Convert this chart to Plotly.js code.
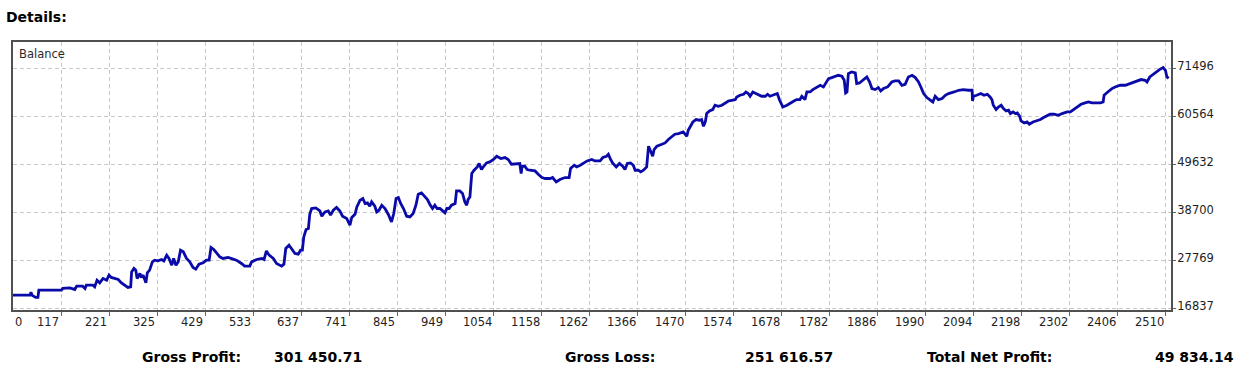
<!DOCTYPE html>
<html>
<head>
<meta charset="utf-8">
<script src="https://cdn.plot.ly/plotly-3.0.1.min.js"></script>
<style>
  html, body { margin: 0; padding: 0; background: #fff; }
  #chart { width: 1248px; height: 373px; }
</style>
</head>
<body>
<div id="chart"></div>
<script>
// ---- data ----
const trades = [0,49,51,53,61,66,68,117,120,135,146,150,163,168,171,185,189,194,200,207,215,220,225,233,240,247,254,261,267,269,274,278,281,287,290,294,300,303,308,314,319,326,334,339,345,350,356,360,365,370,375,381,388,395,402,408,415,424,431,437,441,447,453,460,467,478,489,496,507,514,525,529,540,551,556,561,567,576,583,594,599,603,610,619,623,630,635,639,642,647,652,655,659,668,677,681,688,695,700,706,713,720,726,735,742,746,753,757,764,770,775,780,785,789,796,800,805,811,818,825,832,837,842,847,852,858,865,872,879,885,890,897,905,910,915,921,926,931,937,944,948,952,957,962,970,973,980,986,991,995,998,1002,1006,1011,1018,1022,1027,1032,1038,1045,1053,1060,1069,1078,1085,1092,1103,1110,1113,1115,1121,1126,1132,1143,1150,1158,1165,1176,1181,1189,1197,1208,1217,1220,1228,1233,1241,1248,1256,1266,1273,1284,1290,1298,1302,1306,1311,1319,1326,1333,1338,1343,1350,1356,1360,1367,1372,1378,1385,1389,1394,1398,1401,1407,1418,1425,1432,1439,1446,1454,1464,1472,1475,1479,1485,1492,1499,1504,1508,1512,1515,1521,1528,1533,1540,1548,1555,1562,1569,1577,1580,1587,1595,1600,1605,1609,1615,1620,1627,1634,1642,1647,1652,1660,1668,1673,1680,1689,1696,1704,1710,1717,1721,1728,1732,1739,1745,1752,1761,1768,1774,1779,1786,1793,1800,1808,1813,1816,1819,1822,1829,1837,1840,1846,1851,1856,1862,1868,1873,1880,1887,1892,1898,1907,1916,1923,1931,1938,1945,1952,1960,1967,1974,1979,1985,1992,1999,2005,2010,2017,2025,2032,2039,2046,2051,2061,2071,2082,2090,2091,2093,2100,2109,2116,2123,2129,2133,2136,2142,2147,2153,2158,2164,2169,2173,2179,2184,2188,2193,2196,2203,2209,2214,2222,2231,2238,2245,2252,2259,2268,2277,2285,2296,2303,2310,2317,2326,2335,2342,2350,2359,2368,2374,2376,2384,2393,2400,2411,2422,2431,2440,2449,2456,2465,2469,2475,2482,2489,2496,2504,2509,2512,2516];
const balance = [20000,20000,20650,20000,19450,19450,21110,21110,21500,21630,21270,22020,22020,21500,22250,22250,21860,23380,22770,23770,23380,24520,24000,23770,23540,22770,22250,21720,21860,25270,26040,25660,23770,24910,24000,24520,22770,25040,25660,27540,27930,27770,28090,27770,29070,28320,26790,28320,26790,27540,30200,29820,28320,27540,26270,25880,27020,27320,27930,27930,30820,30360,29590,28680,28320,28540,28160,27930,27180,26570,26570,27540,28090,28320,28090,30040,29070,28320,27180,26570,27020,30590,31340,30200,29450,29290,30200,30200,33220,34910,35130,38380,39680,39820,39130,37930,38910,39130,38160,39290,39910,39130,37930,37410,35880,37630,38380,40040,41570,41950,40820,40950,40200,41180,40200,38910,39290,40430,39680,38380,36630,38540,41950,42180,40820,39680,37930,37770,38540,40430,42930,43220,42320,41720,40660,39680,40430,39680,39680,39130,38680,39680,39680,40430,40820,43680,43680,43090,41180,40430,41720,42320,47630,48380,49130,49910,48540,49290,50040,50270,50820,51570,51040,51270,50820,49750,49910,49910,47630,49290,49290,48540,48380,48220,47470,46720,46500,46500,46720,45720,46270,46720,46720,48770,49520,49130,49520,50040,50500,50820,50500,50500,51270,51570,52020,51040,50040,49130,49910,49290,48540,49910,50040,49520,48380,48380,48000,48380,49130,53840,52540,51570,53090,53840,54290,54590,55360,55950,56570,56720,57090,56110,57470,58220,59360,59910,59750,59910,58380,59360,61270,61860,62180,63160,62930,63160,63680,64130,64290,64450,65040,65430,65660,66180,65820,65200,66180,65950,65660,65200,65200,65660,65200,65430,65820,64290,62770,63160,63680,64130,64450,64450,65200,64450,66180,66180,66720,67180,67700,67320,68450,69220,69450,69750,69970,69750,68840,65950,66180,70360,70720,70500,68090,68220,68680,69000,69590,68450,66950,66720,67180,66410,66950,67320,68450,68680,68680,67700,67930,69590,69970,69450,68450,67320,65820,64910,64290,63910,65200,64450,64680,65430,65820,65950,66180,66570,66720,66570,66570,64130,65200,65430,65820,65430,65660,65040,64450,63160,62180,62770,63160,62410,61860,62020,61270,61630,61270,61410,60660,59590,59130,59360,58840,59360,59590,59910,60360,60660,61110,61110,60880,61270,61630,61630,62180,62770,63380,63680,63910,63680,63680,63680,63910,65430,66180,66950,67320,67700,67700,68090,68450,68840,69000,68840,68450,69590,70200,70720,71270,71720,71110,69590,69300];

const xTickVals = [117,221,325,429,533,637,741,845,949,1054,1158,1262,1366,1470,1574,1678,1782,1886,1990,2094,2198,2302,2406,2510];
const xFirstLabel = "0";
const yTickVals = [16837,27769,38700,49632,60564,71496];
const seriesName = "Balance";
const pageTitle = "Details:";
const summaryLabels = ["Gross Profit:", "Gross Loss:", "Total Net Profit:"];
const summaryValues = ["301 450.71", "251 616.57", "49 834.14"];

// ---- layout constants (pixels) ----
const W = 1248, H = 373;
const M = { l: 13, r: 77, t: 42, b: 63 };
const PW = W - M.l - M.r, PH = H - M.t - M.b;
const XR = [12, 2521], YR = [16600, 77540];
const FONT = "DejaVu Sans";
const px2paper = px => (px - M.l) / PW;
const py2paper = py => (H - M.b - py) / PH;

const annotations = [];
// series label inside the frame
annotations.push({
  text: seriesName, xref: "paper", yref: "paper", x: 0, y: 1,
  xanchor: "left", yanchor: "top", xshift: 4, yshift: -3, showarrow: false,
  font: { family: FONT, size: 11.5, color: "#2a2a2a" }
});
// x tick labels: right-aligned to their grid line
xTickVals.forEach(v => annotations.push({
  text: String(v), xref: "x", yref: "paper", x: v, y: 0,
  xanchor: "right", yanchor: "middle", yshift: -12, showarrow: false,
  font: { family: FONT, size: 11.5, color: "#1e1e1e" }
}));
annotations.push({
  text: xFirstLabel, xref: "x", yref: "paper", x: XR[0], y: 0,
  xanchor: "left", yanchor: "middle", yshift: -12, showarrow: false,
  font: { family: FONT, size: 11.5, color: "#1e1e1e" }
});
// summary row
const sumFont = { family: FONT, size: 14, weight: "bold", color: "#000" };
const labelPx = [140, 563, 925];
const valuePx = [272, 743, 1236];
const valueAnchor = ["left", "left", "right"];
const rowY = py2paper(357);
summaryLabels.forEach((t, i) => annotations.push({
  text: t, xref: "paper", yref: "paper", x: px2paper(labelPx[i]), y: rowY,
  xanchor: "left", yanchor: "middle", showarrow: false, font: sumFont
}));
summaryValues.forEach((t, i) => annotations.push({
  text: t, xref: "paper", yref: "paper", x: px2paper(valuePx[i]), y: rowY,
  xanchor: valueAnchor[i], yanchor: "middle", showarrow: false, font: sumFont
}));

const trace = {
  x: trades, y: balance, type: "scatter", mode: "lines",
  line: { color: "#0a0aa8", width: 2.8, shape: "linear" },
  hoverinfo: "skip"
};

const layout = {
  width: W, height: H,
  margin: M,
  paper_bgcolor: "#fff", plot_bgcolor: "#fff",
  showlegend: false,
  title: {
    text: pageTitle, xref: "container", yref: "container",
    x: 6 / W, xanchor: "left", y: 1 - 17 / H, yanchor: "middle",
    font: { family: FONT, size: 14, weight: "bold", color: "#000" }
  },
  xaxis: {
    range: XR, tickmode: "array", tickvals: xTickVals, showticklabels: false,
    ticks: "outside", ticklen: 4, tickwidth: 1, tickcolor: "#666",
    showgrid: true, gridcolor: "#c8c8c8", gridwidth: 1, griddash: "4px,3px",
    showline: true, linecolor: "#505050", linewidth: 2, mirror: true,
    zeroline: false, fixedrange: true
  },
  yaxis: {
    range: YR, side: "right", tickmode: "array", tickvals: yTickVals,
    ticktext: yTickVals.map(String),
    ticks: "outside", ticklen: 3, tickwidth: 1, tickcolor: "#666",
    ticklabelshift: -3, ticklabelstandoff: -1,
    tickfont: { family: FONT, size: 11.5, color: "#1e1e1e" },
    showgrid: true, gridcolor: "#c8c8c8", gridwidth: 1, griddash: "4px,3px",
    showline: true, linecolor: "#505050", linewidth: 2, mirror: true,
    zeroline: false, fixedrange: true
  },
  annotations: annotations
};

Plotly.newPlot("chart", [trace], layout, { staticPlot: true, displayModeBar: false });
</script>
</body>
</html>
